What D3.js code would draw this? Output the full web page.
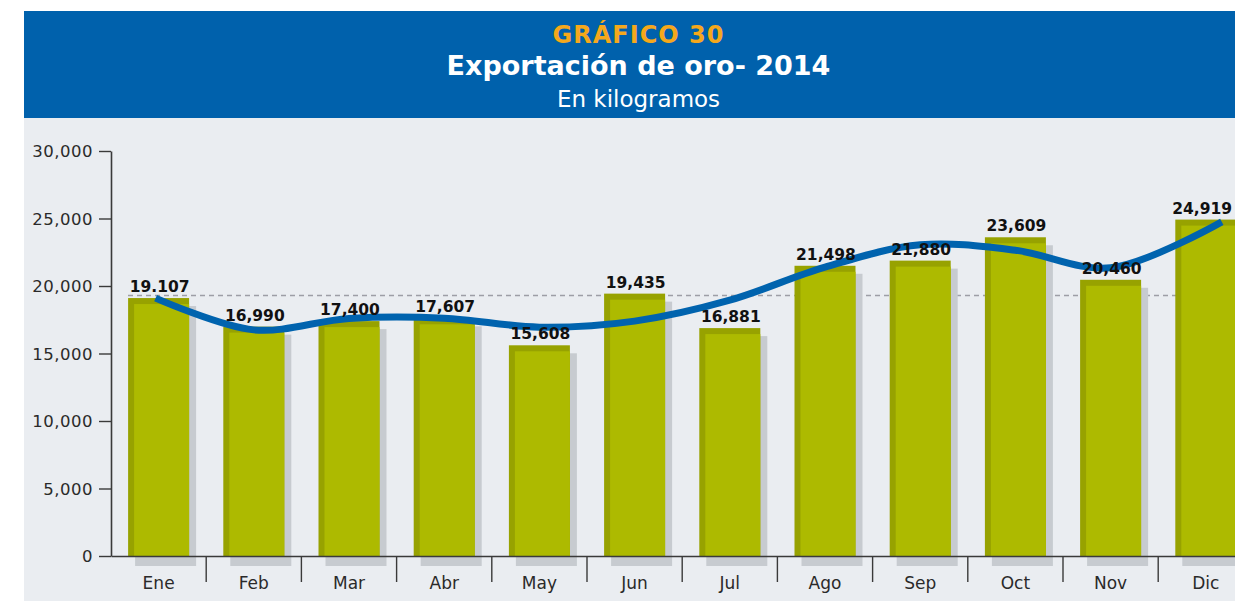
<!DOCTYPE html>
<html>
<head>
<meta charset="utf-8">
<script src="https://cdn.jsdelivr.net/npm/d3@7"></script>
<style>
  body { margin: 0; background: #fff; }
  text { font-family: "DejaVu Sans", sans-serif; }
</style>
</head>
<body>
<div id="chart"></div>
<script>
const months = ['Ene', 'Feb', 'Mar', 'Abr', 'May', 'Jun', 'Jul', 'Ago', 'Sep', 'Oct', 'Nov', 'Dic']
const values = [19107, 16990, 17400, 17607, 15608, 19435, 16881, 21498, 21880, 23609, 20460, 24919]
const labels = ['19.107', '16,990', '17,400', '17,607', '15,608', '19,435', '16,881', '21,498', '21,880', '23,609', '20,460', '24,919']
// blue trend curve, read at each month
const trend = [19100, 16750, 17600, 17620, 16950, 17400, 18950, 21400, 23050, 22650, 21350, 24750]
const promedio = 19300
const yTicks = [0, 5000, 10000, 15000, 20000, 25000, 30000]

const W = 1235, H = 602
const plot = {left: 111, right: 1253.4, top: 151, bottom: 556}

const svg = d3.select('#chart')
    .append('svg')
    .attr('width', W)
    .attr('height', H)

// panel + header
svg.append('rect').attr('x', 24).attr('y', 118).attr('width', W - 24).attr('height', 483).attr('fill', '#eaedf1')
svg.append('rect').attr('x', 24).attr('y', 11).attr('width', W - 24).attr('height', 107).attr('fill', '#0061ac')

svg.append('text').attr('x', 638.5).attr('y', 43).attr('text-anchor', 'middle')
    .attr('font-size', 24).attr('font-weight', 'bold').attr('letter-spacing', 1)
    .attr('fill', '#f5a81c').text('GRÁFICO 30')
svg.append('text').attr('x', 638.5).attr('y', 75).attr('text-anchor', 'middle')
    .attr('font-size', 27).attr('font-weight', 'bold')
    .attr('fill', '#fff').text('Exportación de oro- 2014')
svg.append('text').attr('x', 638.5).attr('y', 107).attr('text-anchor', 'middle')
    .attr('font-size', 23)
    .attr('fill', '#fff').text('En kilogramos')

const x = d3.scaleBand()
    .domain(months)
    .range([plot.left, plot.right])
    .padding(0)

const y = d3.scaleLinear()
    .domain([0, 30000])
    .range([plot.bottom, plot.top])

const barW = 61
const barOff = (x.bandwidth() - barW) / 2
const center = m => x(m) + x.bandwidth() / 2

// average dashed line (behind bars)
svg.append('line')
    .attr('x1', 128).attr('x2', W)
    .attr('y1', y(promedio)).attr('y2', y(promedio))
    .attr('stroke', '#9d9ea6').attr('stroke-width', 1.6)
    .attr('stroke-dasharray', '5,4')

const bars = svg.append('g')
    .selectAll('g')
    .data(months)
    .enter()
    .append('g')

// shadows
bars.append('rect')
    .attr('x', m => x(m) + barOff + 7)
    .attr('y', (m, i) => y(values[i]) + 8)
    .attr('width', barW)
    .attr('height', (m, i) => plot.bottom - y(values[i]) + 2)
    .attr('fill', '#c7cbd0')

bars.append('rect')
    .attr('x', m => x(m) + barOff)
    .attr('y', (m, i) => y(values[i]))
    .attr('width', barW)
    .attr('height', (m, i) => plot.bottom - y(values[i]))
    .attr('fill', '#97a200')

bars.append('rect')
    .attr('x', m => x(m) + barOff + 6)
    .attr('y', (m, i) => y(values[i]) + 6)
    .attr('width', barW - 6)
    .attr('height', (m, i) => plot.bottom - y(values[i]) - 6)
    .attr('fill', '#adba00')

// axes
const leftAxis = d3.axisLeft(y)
    .tickValues(yTicks)
    .tickFormat(d3.format(','))
    .tickSize(12)
    .tickPadding(6)
    .tickSizeOuter(0)

const gy = svg.append('g')
    .attr('transform', `translate(${plot.left},0)`)
    .call(leftAxis)
gy.select('.domain').attr('stroke', '#3a3a3a').attr('stroke-width', 1.6)
gy.selectAll('.tick line').attr('stroke', '#3a3a3a').attr('stroke-width', 1.4)
gy.selectAll('.tick text')
    .attr('font-family', '"DejaVu Sans", sans-serif')
    .attr('font-size', 16.5).attr('letter-spacing', 0.5)
    .attr('fill', '#2a2a2a').attr('dy', '0.36em')

const bottomAxis = d3.axisBottom(x)
    .tickSize(0)
    .tickPadding(21)
    .tickSizeOuter(0)

const gx = svg.append('g')
    .attr('transform', `translate(0,${plot.bottom})`)
    .call(bottomAxis)
gx.select('.domain').attr('stroke', '#3a3a3a').attr('stroke-width', 1.6)
gx.selectAll('.tick text')
    .attr('font-family', '"DejaVu Sans", sans-serif')
    .attr('font-size', 17).attr('fill', '#2a2a2a')

// separators between months
gx.selectAll('.sep')
    .data(months.slice(1))
    .enter()
    .append('line')
    .attr('x1', m => x(m)).attr('x2', m => x(m))
    .attr('y1', 0).attr('y2', 26)
    .attr('stroke', '#3a3a3a').attr('stroke-width', 1.4)

// trend curve
const line = d3.line()
    .x((d, i) => center(months[i]) + (i === 0 ? -3 : 0) + (i === months.length - 1 ? 16 : 0))
    .y(d => y(d))
    .curve(d3.curveCatmullRom.alpha(0.5))

svg.append('path')
    .datum(trend)
    .attr('d', line)
    .attr('fill', 'none')
    .attr('stroke', '#0063ae')
    .attr('stroke-width', 7)
    .attr('stroke-linecap', 'butt')

// value labels
svg.append('g')
    .selectAll('text')
    .data(months)
    .enter()
    .append('text')
    .attr('x', m => center(m) + 1)
    .attr('y', (m, i) => y(values[i]) - 6)
    .attr('text-anchor', 'middle')
    .attr('font-size', 15.5)
    .attr('font-weight', 'bold')
    .attr('fill', '#111')
    .text((m, i) => labels[i])
    .each(function(m) {
        // keep the last label inside the panel
        const half = this.getComputedTextLength() / 2
        const cx = center(m) + 1
        if (cx + half > W - 3) d3.select(this).attr('x', W - 3 - half)
    })
</script>
</body>
</html>
